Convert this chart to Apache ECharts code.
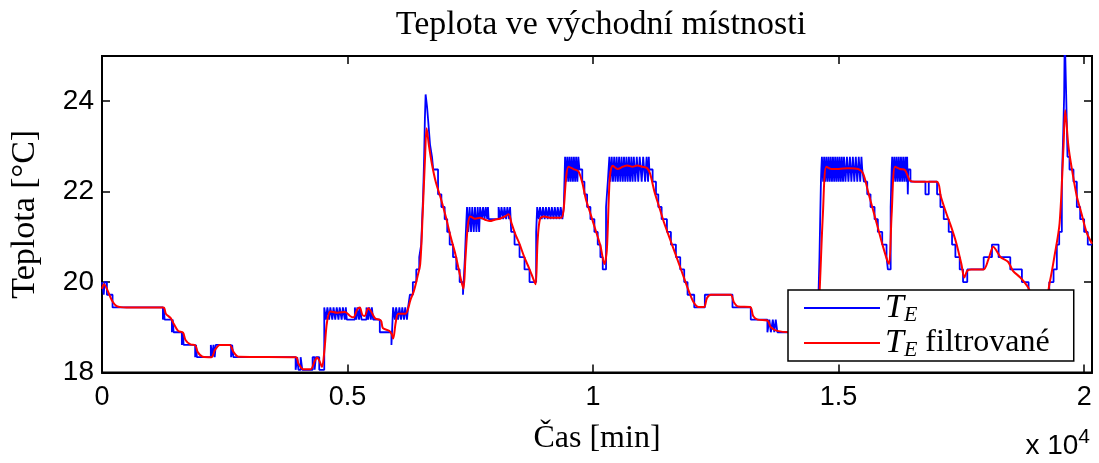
<!DOCTYPE html>
<html>
<head>
<meta charset="utf-8">
<script src="https://cdn.jsdelivr.net/npm/echarts@6/dist/echarts.min.js"></script>
<style>html,body{margin:0;padding:0;background:#fff;}#c{width:1099px;height:463px;}</style>
</head>
<body>
<div id="c"></div>
<script>
// ---- data (time [min], temperature [°C]) ----
const xTickValues = [0, 5000, 10000, 15000, 20000];
const xTickLabels = ['0', '0.5', '1', '1.5', '2'];
const yTickValues = [18, 20, 22, 24];

// raw sensor T_E (quantised, step signal)
const rawTE = [
[0,20.0],[35,19.72],[55,20.0],[100,19.72],[215,19.44],
[1240,19.17],[1258,19.44],[1275,19.17],
[1423,18.89],[1440,19.17],[1458,18.89],
[1626,18.61],[1645,18.89],[1662,18.61],
[1897,18.34],[1915,18.61],[1932,18.34],
[2216,18.61],[2245,18.34],[2270,18.61],[2295,18.34],[2317,18.61],
[2629,18.34],[2650,18.61],[2675,18.34],
[3943,18.06],[3975,18.34],[4000,18.06],[4045,18.34],[4079,18.06],
[4289,18.34],[4330,18.06],[4355,18.34],[4424,18.06],
[4526,19.44],[4560,19.17],[4590,19.44],[4625,19.17],[4650,19.44],[4690,19.17],[4715,19.44],[4750,19.17],[4780,19.44],[4815,19.17],[4840,19.44],[4880,19.17],[4905,19.44],[4945,19.17],[4965,19.44],[4985,19.17],
[5149,19.44],[5180,19.17],[5200,19.44],[5235,19.17],[5255,19.44],[5285,19.17],
[5386,19.44],[5420,19.17],[5440,19.44],[5475,19.17],[5495,19.44],[5522,19.17],
[5657,18.89],[5894,18.61],
[5928,19.44],[5965,19.17],[5990,19.44],[6030,19.17],[6055,19.44],[6090,19.17],[6115,19.44],[6150,19.17],[6175,19.44],[6210,19.17],[6233,19.44],
[6270,19.72],[6330,20.0],[6400,20.28],[6460,20.55],[6500,20.83],[6520,21.39],[6540,21.94],[6560,22.77],[6575,23.6],[6590,24.15],[6620,23.87],[6640,23.6],[6680,23.04],[6720,22.77],[6745,22.49],
[6843,21.94],[6911,21.66],[6978,21.39],[7030,21.11],[7080,20.83],[7148,20.55],[7215,20.28],[7283,20.0],[7351,19.72],[7390,20.55],[7410,21.11],
[7433,21.66],[7460,21.11],[7485,21.66],[7515,21.11],[7540,21.66],[7570,21.11],[7595,21.66],[7625,21.11],[7650,21.66],[7680,21.11],[7700,21.66],[7737,21.39],
[7760,21.66],[7790,21.39],[7815,21.66],[7845,21.39],[7860,21.66],[7873,21.39],
[8076,21.66],[8110,21.39],[8135,21.66],[8170,21.39],[8195,21.66],[8230,21.39],[8255,21.66],[8290,21.39],[8310,21.66],[8333,21.11],
[8401,20.83],[8503,20.55],[8604,20.28],[8706,20.0],
[8841,21.11],[8862,21.66],[8895,21.39],[8920,21.66],[8955,21.39],[8980,21.66],[9015,21.39],[9040,21.66],[9075,21.39],[9100,21.66],[9135,21.39],[9160,21.66],[9195,21.39],[9220,21.66],[9255,21.39],[9280,21.66],[9315,21.39],[9340,21.66],[9375,21.39],[9404,21.66],
[9417,22.22],[9430,22.77],[9455,22.22],[9475,22.77],[9500,22.22],[9520,22.77],[9545,22.22],[9565,22.77],[9590,22.22],[9610,22.77],[9635,22.22],[9655,22.77],[9680,22.22],[9700,22.77],[9722,22.49],
[9780,22.22],[9824,21.94],[9878,21.66],[9946,21.39],[10027,21.11],[10095,20.83],[10149,20.55],[10197,20.28],[10264,21.66],[10300,22.22],
[10332,22.77],[10355,22.22],[10380,22.77],[10405,22.22],[10430,22.77],[10455,22.22],[10480,22.77],[10505,22.22],[10530,22.77],[10555,22.22],[10580,22.77],[10605,22.22],[10630,22.77],[10655,22.22],[10680,22.77],[10705,22.22],[10730,22.77],[10755,22.22],[10780,22.77],[10805,22.22],[10830,22.77],[10860,22.22],[10890,22.77],[10920,22.22],[10950,22.77],[10990,22.22],[11020,22.77],[11060,22.22],[11090,22.77],[11120,22.22],[11135,22.77],[11145,22.49],
[11213,22.22],[11281,21.94],[11328,21.66],[11396,21.39],[11504,21.11],[11585,20.83],[11687,20.55],[11775,20.28],[11856,20.0],[11924,19.72],[12060,19.44],[12276,19.72],[12839,19.44],[13211,19.17],
[13550,18.89],[13590,19.17],[13620,18.89],[13660,19.17],[13690,18.89],[13720,19.17],[13753,18.89],
[14590,19.72],[14610,20.55],[14625,21.39],[14640,22.22],[14648,22.49],
[14660,22.77],[14685,22.22],[14705,22.77],[14730,22.22],[14750,22.77],[14775,22.22],[14795,22.77],[14820,22.22],[14840,22.77],[14865,22.22],[14885,22.77],[14910,22.22],[14930,22.77],[14955,22.22],[14975,22.77],[15000,22.22],[15020,22.77],[15045,22.22],[15065,22.77],[15090,22.22],[15110,22.77],[15140,22.22],[15170,22.77],[15200,22.22],[15230,22.77],[15260,22.22],[15290,22.77],[15320,22.22],[15350,22.77],[15380,22.22],[15410,22.77],[15440,22.22],[15465,22.77],[15481,22.49],
[15515,22.22],[15583,21.94],[15650,21.66],[15732,21.39],[15799,21.11],[15888,20.83],[15976,20.55],[16003,20.28],[16060,21.66],[16080,22.49],
[16091,22.77],[16115,22.22],[16135,22.77],[16160,22.22],[16180,22.77],[16205,22.22],[16225,22.77],[16250,22.22],[16270,22.77],[16295,22.22],[16315,22.77],[16340,22.22],[16360,22.77],[16385,22.22],[16396,22.77],[16409,21.94],[16420,22.49],[16463,22.22],
[16768,21.94],[16836,22.22],[17005,21.94],[17073,21.66],[17141,21.39],[17242,21.11],[17310,20.83],[17378,20.55],[17466,20.28],[17534,20.0],[17620,20.28],
[17954,20.55],[18123,20.83],[18258,20.55],[18496,20.28],[18733,20.0],[18868,19.72],[19000,19.44],[19200,19.72],[19290,20.0],[19377,20.28],[19444,20.83],[19492,21.11],[19546,22.22],[19575,23.32],[19593,24.15],[19605,25.5],[19625,25.5],[19634,24.15],[19661,22.77],[19702,22.49],[19783,22.22],[19851,21.66],[19919,21.39],[20000,21.11],[20074,20.83],[20160,20.83]
];

// filtered T_E
const filteredTE = [
[0,19.85],[40,19.95],[100,19.85],[200,19.6],[300,19.47],[500,19.44],[1250,19.44],[1300,19.3],[1400,19.2],[1460,19.08],[1550,18.92],[1650,18.88],[1700,18.72],[1800,18.62],[1900,18.6],[1950,18.45],[2050,18.35],[2230,18.34],[2300,18.5],[2400,18.61],[2600,18.61],[2680,18.45],[2780,18.35],
[3950,18.34],[4000,18.2],[4100,18.07],[4250,18.07],[4330,18.25],[4380,18.33],[4430,18.25],[4480,18.12],[4530,18.5],[4580,19.1],[4650,19.35],[4800,19.32],[4950,19.34],[5050,19.25],[5120,19.22],[5200,19.4],[5250,19.44],[5300,19.28],[5350,19.25],[5420,19.42],[5480,19.35],[5560,19.2],[5680,19.15],[5720,18.98],[5850,18.92],[5900,18.85],[5930,18.75],[5980,19.1],[6030,19.3],[6100,19.3],[6180,19.3],[6230,19.4],[6280,19.6],[6350,19.8],[6420,20.1],[6480,20.4],[6530,21.5],[6580,22.8],[6610,23.4],[6660,23.0],[6720,22.6],[6800,22.2],[6900,21.85],[7000,21.45],[7100,21.0],[7200,20.6],[7300,20.1],[7360,19.85],[7400,20.5],[7450,21.25],[7500,21.45],[7600,21.4],[7700,21.42],[7800,21.38],[7900,21.35],[8000,21.38],[8100,21.4],[8200,21.45],[8280,21.5],[8340,21.3],[8420,21.05],[8500,20.85],[8600,20.55],[8700,20.3],[8790,20.05],[8830,19.95],[8870,20.9],[8920,21.4],[9000,21.45],[9150,21.42],[9350,21.42],[9400,21.6],[9450,22.3],[9500,22.55],[9600,22.5],[9700,22.45],[9780,22.2],[9850,21.85],[9950,21.5],[10050,21.15],[10150,20.8],[10230,20.4],[10280,20.7],[10340,22.3],[10400,22.57],[10500,22.5],[10600,22.55],[10700,22.58],[10800,22.55],[10900,22.58],[11000,22.55],[11100,22.52],[11160,22.4],[11250,22.0],[11350,21.65],[11450,21.3],[11550,21.0],[11650,20.7],[11750,20.4],[11850,20.1],[11950,19.8],[12050,19.55],[12150,19.45],[12260,19.45],[12320,19.65],[12400,19.72],[12800,19.72],[12870,19.55],[12950,19.46],[13200,19.45],[13260,19.25],[13350,19.17],[13550,19.15],[13620,19.0],[13750,18.92],[14000,18.89],[14550,18.89],[14600,19.5],[14680,21.5],[14750,22.55],[14850,22.5],[15000,22.5],[15200,22.52],[15400,22.5],[15500,22.4],[15600,22.0],[15700,21.6],[15800,21.2],[15900,20.8],[16000,20.45],[16030,20.4],[16080,21.5],[16150,22.55],[16250,22.5],[16350,22.48],[16450,22.25],[16550,22.22],[17000,22.22],[17080,21.9],[17200,21.5],[17300,21.2],[17400,20.85],[17500,20.4],[17560,20.1],[17620,20.25],[17700,20.28],[17950,20.28],[18050,20.5],[18150,20.78],[18200,20.72],[18300,20.55],[18450,20.45],[18550,20.25],[18700,20.1],[18850,19.9],[18950,19.7],[19200,19.6],[19300,20.0],[19400,20.6],[19500,21.3],[19580,23.0],[19614,23.8],[19680,23.0],[19750,22.5],[19850,21.9],[19950,21.5],[20050,21.1],[20160,20.85]
];

const seriesNames = ['T_E', 'T_E filtrované'];
const seriesColors = ['#0000ff', '#ff0000'];

// ---- chart ----
const chart = echarts.init(document.getElementById('c'), null, {renderer: 'canvas'});
const serif = 'Liberation Serif';
const sans = 'Liberation Sans';
function axisLine() { return {show: true, onZero: false, lineStyle: {color: '#000', width: 2}}; }
function tick() { return {show: true, inside: true, length: 8, lineStyle: {color: '#000', width: 1.5}}; }

const option = {
  animation: false,
  backgroundColor: '#fff',
  title: {
    text: 'Teplota ve východní místnosti',
    left: 596, top: 3, textAlign: 'center',
    textStyle: {fontFamily: serif, fontSize: 34, fontWeight: 'normal', color: '#000'}
  },
  grid: {left: 100, right: 7, top: 56, bottom: 90.5, show: true, borderColor: '#000', borderWidth: 2, backgroundColor: '#fff'},
  legend: {
    data: seriesNames,
    left: 788, top: 290,
    orient: 'vertical',
    backgroundColor: '#fff',
    borderColor: '#000', borderWidth: 1.5, borderRadius: 0,
    padding: [1, 24, 0, 16],
    itemGap: 0,
    icon: 'rect',
    itemWidth: 76, itemHeight: 2,
    textStyle: {
      fontFamily: serif, fontSize: 32, color: '#000', lineHeight: 34,
      rich: {
        it: {fontFamily: serif, fontStyle: 'italic', fontSize: 34, color: '#000'},
        sub: {fontFamily: serif, fontStyle: 'italic', fontSize: 22, color: '#000', padding: [14, 0, 0, 0]},
        tx: {fontFamily: serif, fontSize: 32, color: '#000'}
      }
    },
    formatter: function (n) {
      return n === 'T_E' ? '{it|T}{sub|E}' : '{it|T}{sub|E}{tx| filtrované}';
    }
  },
  xAxis: [{
    type: 'value', min: 0, max: 20160, interval: 5000, position: 'bottom',
    axisLine: axisLine(), axisTick: tick(), splitLine: {show: false},
    axisLabel: {
      color: '#000', fontFamily: sans, fontSize: 27, margin: 12, showMaxLabel: false,
      formatter: function (v) { const i = xTickValues.indexOf(v); return i >= 0 ? xTickLabels[i] : ''; }
    },
    name: 'Čas [min]', nameLocation: 'middle', nameGap: 50,
    nameTextStyle: {fontFamily: serif, fontSize: 32, color: '#000'}
  }, {
    type: 'value', min: 0, max: 20160, interval: 5000, position: 'top',
    axisLine: axisLine(), axisTick: tick(), splitLine: {show: false}, axisLabel: {show: false}
  }],
  yAxis: [{
    type: 'value', min: 18, max: 25, interval: 2, position: 'left',
    axisLine: axisLine(), axisTick: tick(), splitLine: {show: false},
    axisLabel: {
      color: '#000', fontFamily: sans, fontSize: 28, margin: 8, showMaxLabel: false,
      formatter: function (v) { return yTickValues.indexOf(v) >= 0 ? String(v) : ''; }
    },
    name: 'Teplota [°C]', nameLocation: 'middle', nameGap: 60, nameRotate: 90,
    nameTextStyle: {fontFamily: serif, fontSize: 34, color: '#000'}
  }, {
    type: 'value', min: 18, max: 25, interval: 2, position: 'right',
    axisLine: axisLine(), axisTick: tick(), splitLine: {show: false}, axisLabel: {show: false}
  }],
  graphic: [{
    type: 'text', right: 9, bottom: 3,
    style: {
      text: 'x 10{sup|4}', fontFamily: sans, fontSize: 28, fill: '#000',
      rich: {sup: {fontFamily: sans, fontSize: 21, fill: '#000', padding: [0, 0, 18, 0]}}
    }
  }],
  series: [{
    name: seriesNames[0], type: 'line', step: 'end', data: rawTE,
    xAxisIndex: 0, yAxisIndex: 0, symbol: 'none', showSymbol: false,
    lineStyle: {color: seriesColors[0], width: 1.8}, itemStyle: {color: seriesColors[0]}, clip: true, z: 2
  }, {
    name: seriesNames[1], type: 'line', data: filteredTE, smooth: 0.3,
    xAxisIndex: 0, yAxisIndex: 0, symbol: 'none', showSymbol: false,
    lineStyle: {color: seriesColors[1], width: 2}, itemStyle: {color: seriesColors[1]}, clip: true, z: 3
  }]
};
chart.setOption(option);
</script>
</body>
</html>
